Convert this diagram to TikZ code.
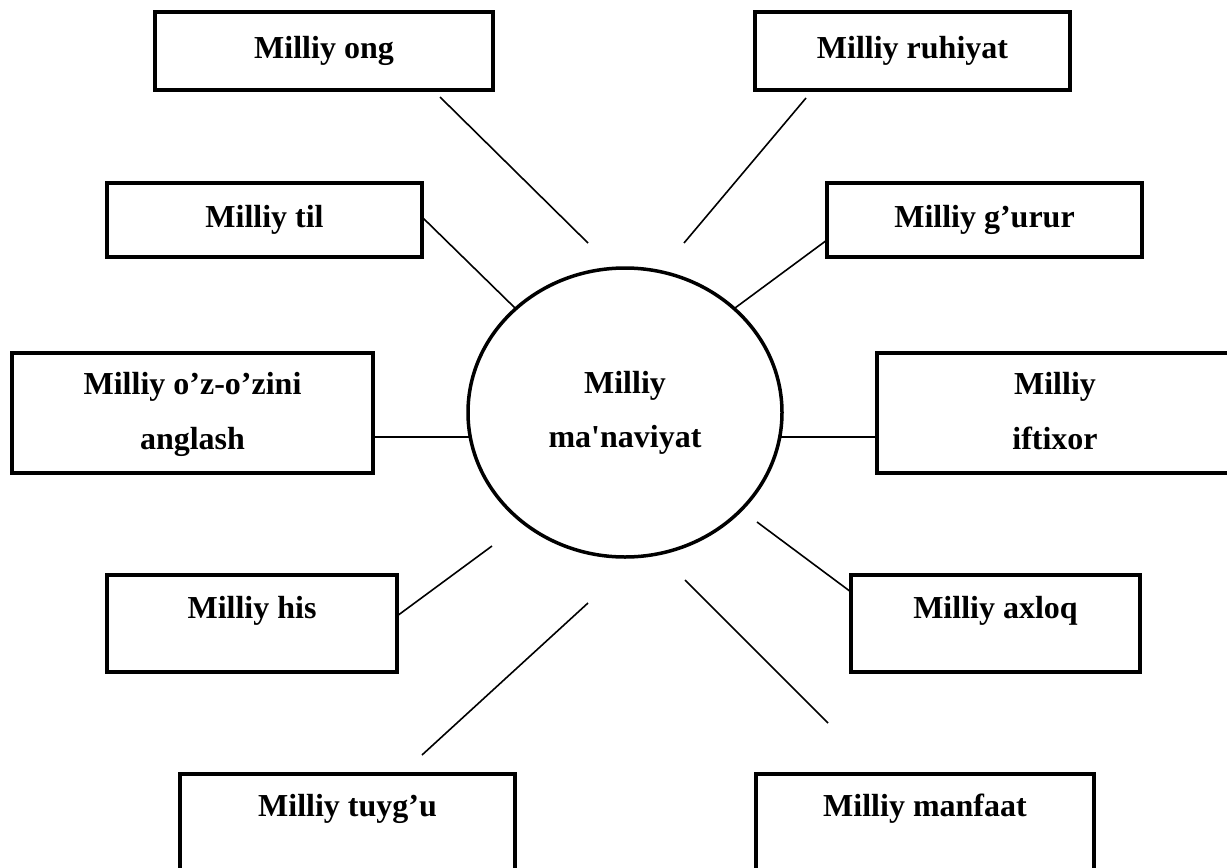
\documentclass[tikz,border=0pt]{standalone}
\usepackage{fontspec}
\newfontfamily\lib{Liberation Serif}
\usetikzlibrary{shapes.geometric}
\begin{document}
\begin{tikzpicture}[x=1pt,y=-1pt,
  box/.style={draw, line width=3.5pt, inner sep=0pt, outer sep=0pt, anchor=north west},
  lbl/.style={anchor=base, font=\lib\bfseries\fontsize{32}{38}\selectfont, inner sep=0pt},
  conn/.style={line width=1.6pt}]
\useasboundingbox (0,0) rectangle (1227,868);
\fill[white] (0,0) rectangle (1227,868);

% central ellipse
\node[draw, ellipse, line width=3.5pt, inner sep=0pt, outer sep=0pt,
      minimum width=314pt, minimum height=289pt] (mid) at (625,412.5) {};
\node[lbl] (midA) at (625,393) {Milliy};
\node[lbl] (midB) at (625,447) {ma'naviyat};

% boxes
\node[box, minimum width=338pt, minimum height=78pt] (ong) at (155,12) {};
\node[lbl] (ongT) at (324,58) {Milliy ong};

\node[box, minimum width=315pt, minimum height=78pt] (ruh) at (755,12) {};
\node[lbl] (ruhT) at (912.5,58) {Milliy ruhiyat};

\node[box, minimum width=315pt, minimum height=74pt] (til) at (107,183) {};
\node[lbl] (tilT) at (264.5,227) {Milliy til};

\node[box, minimum width=315pt, minimum height=74pt] (gur) at (827,183) {};
\node[lbl] (gurT) at (984.5,227) {Milliy g’urur};

\node[box, minimum width=361pt, minimum height=120pt] (oz) at (12,353) {};
\node[lbl] (ozA) at (192.5,394) {Milliy o’z-o’zini};
\node[lbl] (ozB) at (192.5,449) {anglash};

\node[box, minimum width=356pt, minimum height=120pt] (ift) at (877,353) {};
\node[lbl] (iftA) at (1055,394) {Milliy};
\node[lbl] (iftB) at (1055,449) {iftixor};

\node[box, minimum width=290pt, minimum height=97pt] (his) at (107,575) {};
\node[lbl] (hisT) at (252,618) {Milliy his};

\node[box, minimum width=289pt, minimum height=97pt] (axl) at (851,575) {};
\node[lbl] (axlT) at (995.5,618) {Milliy axloq};

\node[box, minimum width=335pt, minimum height=120pt] (tuy) at (180,774) {};
\node[lbl] (tuyT) at (347.5,816) {Milliy tuyg’u};

\node[box, minimum width=338pt, minimum height=120pt] (man) at (756,774) {};
\node[lbl] (manT) at (925,816) {Milliy manfaat};

% connector end points
\coordinate (ongA) at (440,97);   \coordinate (ongB) at (588,243);
\coordinate (ruhA) at (806,98);   \coordinate (ruhB) at (684,243);
\coordinate (tilA) at (422,217);  \coordinate (tilB) at (515,308);
\coordinate (gurA) at (827,240);  \coordinate (gurB) at (735,308);
\coordinate (ozA1) at (373,437);  \coordinate (ozB1) at (470,437);
\coordinate (iftA1) at (780,437); \coordinate (iftB1) at (877,437);
\coordinate (hisA) at (397,616);  \coordinate (hisB) at (492,546);
\coordinate (axlA) at (851,592);  \coordinate (axlB) at (757,522);
\coordinate (tuyA) at (422,755);  \coordinate (tuyB) at (588,603);
\coordinate (manA) at (828,723);  \coordinate (manB) at (685,580);

\draw[conn] (ongA) -- (ongB);
\draw[conn] (ruhA) -- (ruhB);
\draw[conn] (tilA) -- (tilB);
\draw[conn] (gurA) -- (gurB);
\draw[conn] (ozA1) -- (ozB1);
\draw[conn] (iftA1) -- (iftB1);
\draw[conn] (hisA) -- (hisB);
\draw[conn] (axlA) -- (axlB);
\draw[conn] (tuyA) -- (tuyB);
\draw[conn] (manA) -- (manB);
\end{tikzpicture}
\end{document}
